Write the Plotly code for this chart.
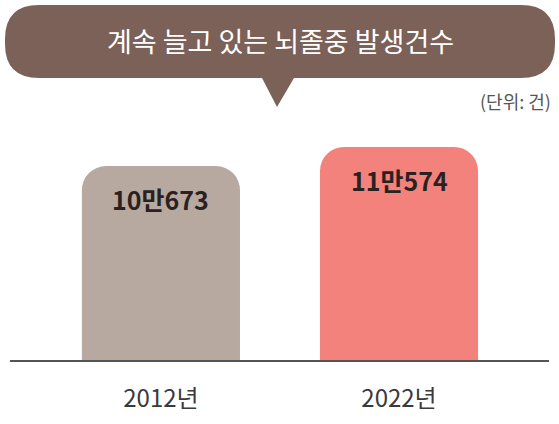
import plotly.graph_objects as go

years = ["2012년", "2022년"]
cases = [100673, 110574]
case_labels = ["10만673", "11만574"]
bar_colors = ["#b8a9a0", "#f4827c"]

FONT = "Noto Sans CJK KR"
W, H = 559, 424
L, R, T, B = 10, 10, 100, 64   # plot area: x 10..549, y 100..360


def px(x, y):
    # page pixels -> paper coords
    return (x - L) / (W - L - R), (H - B - y) / (H - T - B)


def bubble_path(x0, y0, x1, y1, r, tx0, tx1, tip):
    pts = []
    def P(cmd, x, y):
        a, b = px(x, y)
        pts.append(f"{cmd}{a:.5f},{b:.5f}")
    P("M", x0 + r, y0)
    P("L", x1 - r, y0)
    P("Q", x1, y0); P(" ", x1, y0 + r)
    P("L", x1, y1 - r)
    P("Q", x1, y1); P(" ", x1 - r, y1)
    P("L", tx1, y1)
    P("L", tip[0], tip[1])
    P("L", tx0, y1)
    P("L", x0 + r, y1)
    P("Q", x0, y1); P(" ", x0, y1 - r)
    P("L", x0, y0 + r)
    P("Q", x0, y0); P(" ", x0 + r, y0)
    return " ".join(pts) + " Z"


fig = go.Figure(go.Bar(
    x=[0, 1], y=cases, width=0.664,
    marker=dict(color=bar_colors, cornerradius=24, line_width=0),
    hoverinfo="skip",
))

for i, (v, t) in enumerate(zip(cases, case_labels)):
    fig.add_annotation(x=i, y=v, text=f"<b>{t}</b>", showarrow=False,
                       yshift=-33, font=dict(family=FONT, size=25, color="#2a2220"))

fig.add_shape(type="path", xref="paper", yref="paper",
              path=bubble_path(5, 5, 555, 78, 34, 262, 294, (277, 107)),
              fillcolor="#7b6158", line_width=0, layer="above")

tx, ty = px(280, 41)
fig.add_annotation(xref="paper", yref="paper", x=tx, y=ty, xanchor="center", yanchor="middle",
                   text="계속 늘고 있는 뇌졸중 발생건수",
                   showarrow=False, font=dict(family=FONT, size=27, color="white"))
ux, uy = px(553, 101)
fig.add_annotation(xref="paper", yref="paper", x=ux, y=uy, xanchor="right", yanchor="middle",
                   text="(단위: 건)",
                   showarrow=False, font=dict(family=FONT, size=18, color="#555"))

fig.update_layout(
    width=W, height=H, margin=dict(l=L, r=R, t=T, b=B),
    paper_bgcolor="white", plot_bgcolor="white", showlegend=False,
    xaxis=dict(range=[-0.634, 1.630], tickvals=[0, 1], ticktext=years,
               tickfont=dict(family=FONT, size=24, color="#3a3a3a"),
               ticks="outside", ticklen=16, tickcolor="rgba(0,0,0,0)",
               showline=True, linecolor="#555", linewidth=2,
               showgrid=False, zeroline=False, fixedrange=True),
    yaxis=dict(range=[0, 110574 * 260 / 213], visible=False, fixedrange=True),
)

fig.write_html("out.html", config={"displayModeBar": False},
               post_script="document.body.style.margin='0';")
